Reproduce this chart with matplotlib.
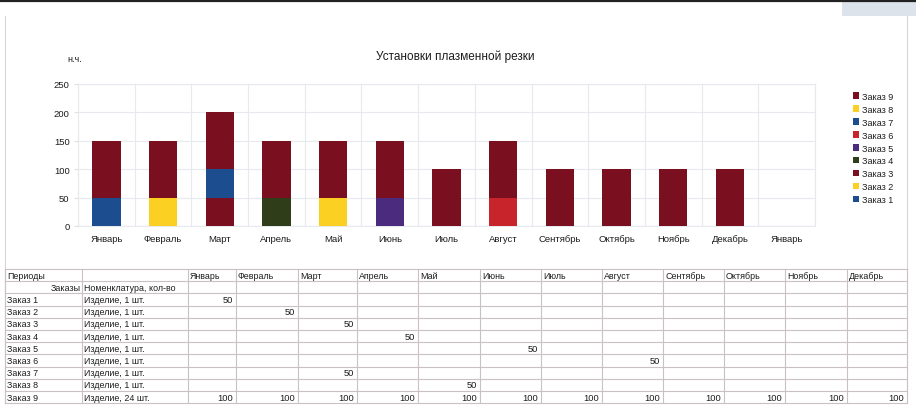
import numpy as np
import matplotlib.pyplot as plt
from matplotlib.patches import Rectangle

plt.rcParams['font.family'] = ['Liberation Sans', 'DejaVu Sans']

months = ['Январь', 'Февраль', 'Март', 'Апрель', 'Май', 'Июнь',
          'Июль', 'Август', 'Сентябрь', 'Октябрь', 'Ноябрь', 'Декабрь']
chart_months = months + ['Январь']

orders = ['Заказ 1', 'Заказ 2', 'Заказ 3', 'Заказ 4', 'Заказ 5',
          'Заказ 6', 'Заказ 7', 'Заказ 8', 'Заказ 9']
items = ['Изделие, 1 шт.'] * 8 + ['Изделие, 24 шт.']

# hours per order per month (None = empty cell)
hours = [
    [50, None, None, None, None, None, None, None, None, None, None, None],
    [None, 50, None, None, None, None, None, None, None, None, None, None],
    [None, None, 50, None, None, None, None, None, None, None, None, None],
    [None, None, None, 50, None, None, None, None, None, None, None, None],
    [None, None, None, None, None, 50, None, None, None, None, None, None],
    [None, None, None, None, None, None, None, 50, None, None, None, None],
    [None, None, 50, None, None, None, None, None, None, None, None, None],
    [None, None, None, None, 50, None, None, None, None, None, None, None],
    [100, 100, 100, 100, 100, 100, 100, 100, 100, 100, 100, 100],
]

colors = ['#1c4d8f', '#fbd022', '#7a0f1f', '#2f3e18', '#4a2b7e',
          '#c8242c', '#1c4d8f', '#fbd022', '#7a0f1f']

W, H = 916, 406
fig = plt.figure(figsize=(W / 100, H / 100), dpi=100)

# page decorations and table, drawn in pixel coordinates
bg = fig.add_axes([0, 0, 1, 1])
bg.set_xlim(0, W)
bg.set_ylim(H, 0)
bg.axis('off')
bg.plot([0, W], [1.5, 1.5], color='#222222', lw=1.6)
bg.add_patch(Rectangle((842, 3), 74, 14, color='#dde3ea', lw=0))
bg.plot([5, 5], [17, 404], color='#d6d6d6', lw=0.8)
bg.plot([907, 907], [17, 270], color='#d6d6d6', lw=0.8)

grid_c = '#cbc1c1'
col_x = [5, 82, 188, 236, 298, 357, 418, 480, 541, 602, 663, 724, 785, 847, 907]
row_h = 12.2
top = 270
n_rows = 2 + len(orders)
for i in range(n_rows + 1):
    bg.plot([5, 907], [top + i * row_h] * 2, color=grid_c, lw=0.8)
for x in col_x:
    bg.plot([x, x], [top, top + n_rows * row_h], color=grid_c, lw=0.8)

fs = 6.4
tc = '#1c1c1c'
def cell_y(r):
    return top + (r + 0.5) * row_h

bg.text(7, cell_y(0), 'Периоды', fontsize=fs, color=tc, va='center')
for j, m in enumerate(months):
    bg.text(col_x[j + 2] + 2, cell_y(0), m, fontsize=fs, color=tc, va='center')
bg.text(81, cell_y(1), 'Заказы', fontsize=fs, color=tc, va='center', ha='right')
bg.text(84, cell_y(1), 'Номенклатура, кол-во', fontsize=fs, color=tc, va='center')
for i, (o, it) in enumerate(zip(orders, items)):
    y = cell_y(i + 2)
    bg.text(7, y, o, fontsize=fs, color=tc, va='center')
    bg.text(84, y, it, fontsize=fs, color=tc, va='center')
    for j, v in enumerate(hours[i]):
        if v is not None:
            bg.text(col_x[j + 3] - 3, y, str(v), fontsize=fs + 0.3, color=tc,
                    va='center', ha='right')

# stacked bar chart
ax = fig.add_axes([78 / W, 1 - 227 / H, (815 - 78) / W, (227 - 85) / H])
x = np.arange(len(chart_months))
bottom = np.zeros(len(chart_months))
bars = []
for i, o in enumerate(orders):
    vals = np.array([v if v is not None else 0 for v in hours[i]] + [0], dtype=float)
    b = ax.bar(x, vals, 0.5, bottom=bottom, color=colors[i], label=o, zorder=3)
    bars.append(b)
    bottom += vals

ax.set_xlim(-0.5, len(chart_months) - 0.5)
ax.set_ylim(0, 250)
ax.set_yticks(range(0, 251, 50))
ax.set_xticks(x)
ax.set_xticklabels(chart_months)
ax.set_xticks(np.arange(-0.5, len(chart_months)), minor=True)
ax.grid(True, which='major', axis='y', color='#e6e9ee', lw=0.8)
ax.grid(True, which='minor', axis='x', color='#e6e9ee', lw=0.8)
ax.tick_params(axis='x', which='both', length=0, pad=6, labelsize=6.8, colors=tc)
ax.tick_params(axis='y', length=3, color='#e0e0e0', pad=3, labelsize=6.8, colors=tc)
for s in ax.spines.values():
    s.set_color('#e6e9ee')
    s.set_linewidth(0.8)

fig.text(455 / W, 1 - 57 / H, 'Установки плазменной резки', fontsize=8.5,
         color=tc, ha='center', va='center')
fig.text(67 / W, 1 - 59 / H, 'н.ч.', fontsize=6.5, color=tc, ha='left', va='center')

leg = fig.legend(handles=bars[::-1], labels=orders[::-1],
                 loc='upper left', bbox_to_anchor=(849 / W, 1 - 89 / H),
                 frameon=False, fontsize=6.5, handlelength=0.7, handleheight=0.7,
                 handletextpad=0.35, labelspacing=0.44, borderaxespad=0)
for t in leg.get_texts():
    t.set_color(tc)

fig.savefig('out.png', dpi=100)
